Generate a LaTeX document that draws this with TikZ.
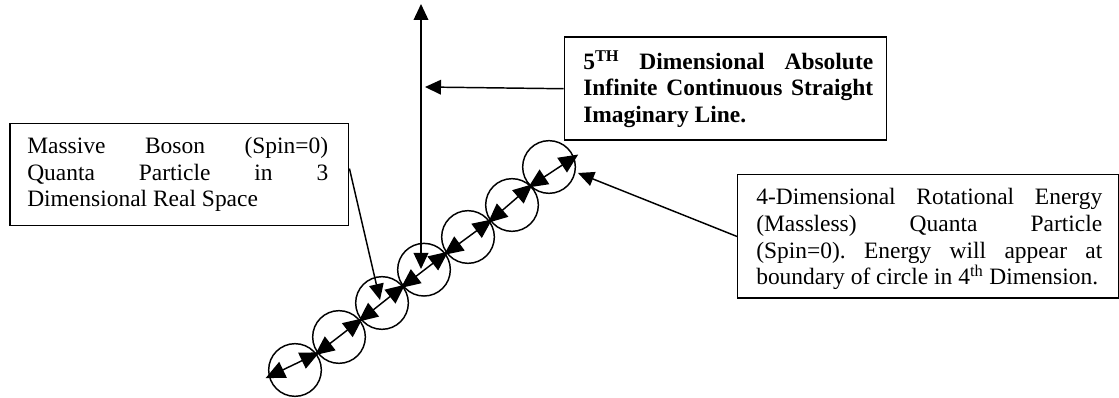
\documentclass[tikz,border=0pt]{standalone}
\usepackage{fontspec}
\setmainfont{Liberation Serif}
\usetikzlibrary{arrows.meta}
\frenchspacing
\begin{document}
\begin{tikzpicture}[x=0.75pt,y=-0.75pt,
  ln/.style={line width=1.1pt},
  tip/.style={-{Triangle[length=12pt,width=11pt]}},
  dtip/.style={{Triangle[length=12pt,width=11pt]}-{Triangle[length=12pt,width=11pt]}},
  ctip/.style={{Triangle[length=14.5pt,width=13pt]}-{Triangle[length=14.5pt,width=13pt]},shorten <=-2pt,shorten >=-2pt},
  ring/.style={circle,draw,line width=1.1pt,minimum size=39.5pt,inner sep=0pt},
  boxshape/.style={draw,line width=1.1pt,inner sep=0pt,anchor=north west},
  txt/.style={font=\fontsize{17.6}{20}\selectfont,align=left,inner sep=0pt,anchor=base west}
]
\useasboundingbox (0,0) rectangle (1119,398);

% boxes
\node[boxshape,minimum width=254pt,minimum height=76.7pt] (mbox) at (9.3,122.7) {};
\node[boxshape,minimum width=241.5pt,minimum height=77.25pt] (fbox) at (563.5,36.5) {};
\node[boxshape,minimum width=285.4pt,minimum height=92.6pt] (ebox) at (737,174) {};

% texts (anchored at the baseline of the last line)
\node[txt] (mtext) at (27,206.7) {\makebox[225.75pt][s]{Massive Boson (Spin=0)}\\
\makebox[225.75pt][s]{Quanta Particle in 3}\\
Dimensional Real Space};
\node[txt,font=\fontsize{17.6}{19.9}\selectfont\bfseries] (ftext) at (583,122.5) {\makebox[217.5pt][s]{5\textsuperscript{TH} Dimensional Absolute}\\
\makebox[217.5pt][s]{Infinite Continuous Straight}\\
Imaginary Line.};
\node[txt] (etext) at (756,285) {\makebox[259.5pt][s]{4-Dimensional Rotational Energy}\\
\makebox[259.5pt][s]{(Massless) Quanta Particle}\\
\makebox[259.5pt][s]{(Spin=0). Energy will appear at}\\
boundary of circle in 4\textsuperscript{th} Dimension.};

% circles
\node[ring] (c1) at (295,370) {};
\node[ring] (c2) at (339,337) {};
\node[ring] (c3) at (382,303) {};
\node[ring] (c4) at (424,269.7) {};
\node[ring] (c5) at (468,237) {};
\node[ring] (c6) at (512,205) {};
\node[ring] (c7) at (549,167) {};

% arrow end points
\coordinate (t0) at (268,377);
\coordinate (t1) at (317,353.5);
\coordinate (t2) at (360.5,320);
\coordinate (t3) at (403,286.3);
\coordinate (t4) at (446,253.3);
\coordinate (t5) at (490,221);
\coordinate (t6) at (530.5,186);
\coordinate (t7) at (576,156);

\draw[ln,ctip] (t0) -- (t1);
\draw[ln,ctip] (t1) -- (t2);
\draw[ln,ctip] (t2) -- (t3);
\draw[ln,ctip] (t3) -- (t4);
\draw[ln,ctip] (t4) -- (t5);
\draw[ln,ctip] (t5) -- (t6);
\draw[ln,ctip] (t6) -- (t7);

% vertical line
\coordinate (vtop) at (421,4);
\coordinate (vbot) at (421,269);
\draw[ln,dtip] (vbot) -- (vtop);

% connectors
\coordinate (hend) at (425,87);
\draw[ln,tip] (fbox.west) -- (hend);
\coordinate (mend) at (380,300);
\draw[ln,tip] ([yshift=4.5pt]mbox.east) -- (mend);
\coordinate (eend) at (578,173);
\draw[ln,tip] (ebox.west) -- (eend);
\end{tikzpicture}
\end{document}
